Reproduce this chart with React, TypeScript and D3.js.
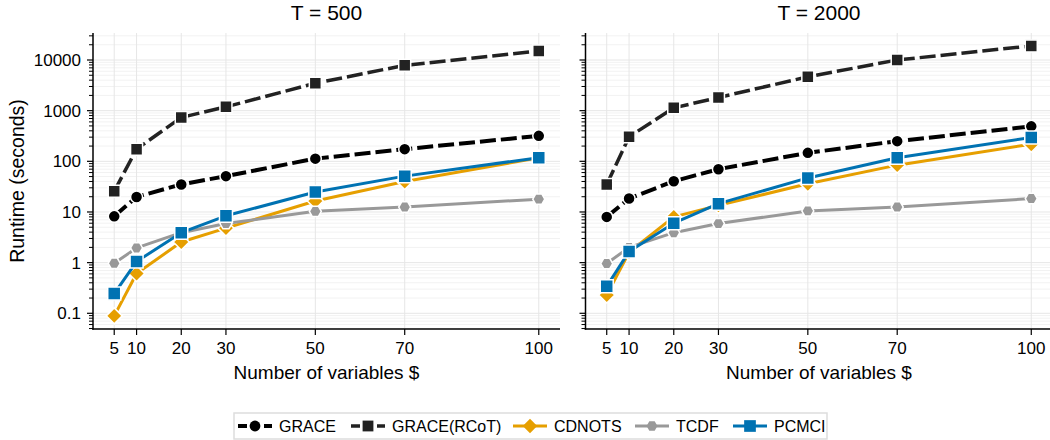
import React, { useEffect, useRef } from 'react';
import * as d3 from 'd3';

// number of variables (x)
const nVars = [5, 10, 20, 30, 50, 70, 100];

// T = 500 runtimes (seconds)
const graceT500 = [8.2, 19.8, 35, 51, 113, 174, 318];
const rcotT500 = [25.7, 174, 735, 1190, 3470, 7850, 15100];
const cdnotsT500 = [0.089, 0.61, 2.55, 4.8, 16.5, 40, 117];
const tcdfT500 = [0.97, 1.95, 3.9, 5.9, 10.3, 12.5, 17.9];
const pcmciT500 = [0.245, 1.05, 3.9, 8.4, 24.8, 51, 118];

// T = 2000 runtimes (seconds)
const graceT2000 = [8, 18.4, 40.5, 70, 147, 250, 490];
const rcotT2000 = [35, 305, 1135, 1820, 4660, 10000, 19000];
const cdnotsT2000 = [0.23, 1.6, 8, 13.5, 36, 84, 218];
const tcdfT2000 = [0.96, 2.0, 3.9, 5.9, 10.5, 12.5, 18.4];
const pcmciT2000 = [0.34, 1.66, 6.0, 14.6, 47, 118, 295];

const panelTitles = ['T = 500', 'T = 2000'];
const methods = ['GRACE', 'GRACE(RCoT)', 'CDNOTS', 'TCDF', 'PCMCI'];
const yTicks = [0.1, 1, 10, 100, 1000, 10000];

const FONT = '"Liberation Sans", Arial, Helvetica, sans-serif';

type Style = { color: string; width: number; dash: string | null; marker: string; size: number };
const styles: Style[] = [
  { color: '#000000', width: 4, dash: '16,5', marker: 'circle', size: 12 },
  { color: '#222222', width: 3.5, dash: '16,5', marker: 'square', size: 12 },
  { color: '#E69F00', width: 3, dash: null, marker: 'diamond', size: 16 },
  { color: '#999999', width: 3, dash: null, marker: 'hexagon', size: 12 },
  { color: '#0072B2', width: 3, dash: null, marker: 'square', size: 13 },
];

const markerPath = (kind: string, s: number) => {
  const h = s / 2;
  if (kind === 'square') return `M${-h},${-h}H${h}V${h}H${-h}Z`;
  if (kind === 'diamond') return `M0,${-h}L${h},0L0,${h}L${-h},0Z`;
  if (kind === 'hexagon') {
    const pts = d3.range(6).map((i) => {
      const a = (Math.PI / 3) * i;
      return [h * Math.cos(a), h * Math.sin(a)];
    });
    return 'M' + pts.map((p) => p.join(',')).join('L') + 'Z';
  }
  return d3.symbol(d3.symbolCircle, Math.PI * h * h)() as string;
};

const App = () => {
  const ref = useRef<SVGSVGElement>(null);

  useEffect(() => {
    const svg = d3.select(ref.current);
    svg.selectAll('*').remove();

    const top = 33;
    const bottom = 329;
    const panels = [
      { x0: 93, x1: 560, data: [graceT500, rcotT500, cdnotsT500, tcdfT500, pcmciT500] },
      { x0: 585.5, x1: 1052.5, data: [graceT2000, rcotT2000, cdnotsT2000, tcdfT2000, pcmciT2000] },
    ];

    const yScale = d3.scaleLog()
      .domain([Math.pow(10, -1.31), Math.pow(10, 4.533)])
      .range([bottom, top]);

    const minor: number[] = [];
    for (let e = -2; e <= 4; e++) {
      for (let m = 2; m <= 9; m++) {
        const v = m * Math.pow(10, e);
        if (v >= yScale.domain()[0] && v <= yScale.domain()[1]) minor.push(v);
      }
    }

    panels.forEach((p, pi) => {
      const xScale = d3.scaleLinear().domain([0.25, 104.75]).range([p.x0, p.x1]);
      const g = svg.append('g');

      // minor grid
      g.selectAll('.ygrid-minor')
        .data(minor)
        .enter()
        .append('line')
        .attr('x1', p.x0).attr('x2', p.x1)
        .attr('y1', (d) => yScale(d)).attr('y2', (d) => yScale(d))
        .attr('stroke', '#f2f2f2').attr('stroke-width', 1);

      // major grid
      g.selectAll('.ygrid')
        .data(yTicks)
        .enter()
        .append('line')
        .attr('x1', p.x0).attr('x2', p.x1)
        .attr('y1', (d) => yScale(d)).attr('y2', (d) => yScale(d))
        .attr('stroke', '#e6e6e6').attr('stroke-width', 1);

      g.selectAll('.xgrid')
        .data(nVars)
        .enter()
        .append('line')
        .attr('x1', (d) => xScale(d)).attr('x2', (d) => xScale(d))
        .attr('y1', top).attr('y2', bottom)
        .attr('stroke', '#e6e6e6').attr('stroke-width', 1);

      // series
      p.data.forEach((vals, si) => {
        const st = styles[si];
        const pts = vals.map((v, i) => [nVars[i], v] as [number, number]);
        const line = d3.line<[number, number]>()
          .x((d) => xScale(d[0]))
          .y((d) => yScale(d[1]));
        g.append('path')
          .attr('d', line(pts))
          .attr('fill', 'none')
          .attr('stroke', st.color)
          .attr('stroke-width', st.width)
          .attr('stroke-dasharray', st.dash)
          .attr('stroke-linejoin', 'round');
        g.selectAll(null)
          .data(pts)
          .enter()
          .append('path')
          .attr('d', markerPath(st.marker, st.size))
          .attr('transform', (d) => `translate(${xScale(d[0])},${yScale(d[1])})`)
          .attr('fill', st.color)
          .attr('stroke', 'white')
          .attr('stroke-width', 1.5);
      });

      // spines
      g.append('line').attr('x1', p.x0).attr('x2', p.x0).attr('y1', top).attr('y2', bottom + 0.75)
        .attr('stroke', 'black').attr('stroke-width', 1.5);
      g.append('line').attr('x1', p.x0 - 0.75).attr('x2', p.x1).attr('y1', bottom).attr('y2', bottom)
        .attr('stroke', 'black').attr('stroke-width', 1.5);

      // y ticks
      g.selectAll('.ytick')
        .data(yTicks)
        .enter()
        .append('line')
        .attr('x1', p.x0 - 6).attr('x2', p.x0)
        .attr('y1', (d) => yScale(d)).attr('y2', (d) => yScale(d))
        .attr('stroke', 'black').attr('stroke-width', 1.2);
      g.selectAll('.ymtick')
        .data(minor)
        .enter()
        .append('line')
        .attr('x1', p.x0 - 4).attr('x2', p.x0)
        .attr('y1', (d) => yScale(d)).attr('y2', (d) => yScale(d))
        .attr('stroke', 'black').attr('stroke-width', 1);
      if (pi === 0) {
        g.selectAll('.ylab')
          .data(yTicks)
          .enter()
          .append('text')
          .attr('x', p.x0 - 12)
          .attr('y', (d) => yScale(d) + 6)
          .attr('text-anchor', 'end')
          .style('font-family', FONT)
          .style('font-size', '17px')
          .text((d) => String(d));
        svg.append('text')
          .attr('transform', `translate(${24},${(top + bottom) / 2}) rotate(-90)`)
          .attr('text-anchor', 'middle')
          .style('font-family', FONT)
          .style('font-size', '19.5px')
          .text('Runtime (seconds)');
      }

      // x ticks
      g.selectAll('.xtick')
        .data(nVars)
        .enter()
        .append('line')
        .attr('x1', (d) => xScale(d)).attr('x2', (d) => xScale(d))
        .attr('y1', bottom).attr('y2', bottom + 6)
        .attr('stroke', 'black').attr('stroke-width', 1.2);
      g.selectAll('.xlab')
        .data(nVars)
        .enter()
        .append('text')
        .attr('x', (d) => xScale(d))
        .attr('y', bottom + 25)
        .attr('text-anchor', 'middle')
        .style('font-family', FONT)
        .style('font-size', '17px')
        .text((d) => String(d));

      const cx = (p.x0 + p.x1) / 2;
      g.append('text')
        .attr('x', cx).attr('y', 379)
        .attr('text-anchor', 'middle')
        .style('font-family', FONT)
        .style('font-size', '19px')
        .text('Number of variables $');
      g.append('text')
        .attr('x', cx).attr('y', 19.5)
        .attr('text-anchor', 'middle')
        .style('font-family', FONT)
        .style('font-size', '21px')
        .text(panelTitles[pi]);
    });

    // legend
    const legend = svg.append('g');
    legend.append('rect')
      .attr('x', 234).attr('y', 413).attr('width', 593).attr('height', 26)
      .attr('fill', 'white').attr('stroke', '#dddddd').attr('stroke-width', 1.5);
    const itemX = [238, 351, 513, 635, 733];
    methods.forEach((m, i) => {
      const st = styles[i];
      const x = itemX[i];
      const y = 426;
      legend.append('line')
        .attr('x1', x).attr('x2', x + 34).attr('y1', y).attr('y2', y)
        .attr('stroke', st.color)
        .attr('stroke-width', st.width)
        .attr('stroke-dasharray', st.dash ? '9,4' : null);
      legend.append('path')
        .attr('d', markerPath(st.marker, st.size * 0.9))
        .attr('transform', `translate(${x + 17},${y})`)
        .attr('fill', st.color);
      legend.append('text')
        .attr('x', x + 41).attr('y', y + 5.5)
        .style('font-family', FONT)
        .style('font-size', '16px')
        .text(m);
    });
  }, []);

  return (
    <div style={{ position: 'absolute', left: 0, top: 0, width: 1050, height: 440, overflow: 'hidden', background: 'white' }}>
      <svg ref={ref} width={1050} height={440}></svg>
    </div>
  );
};

export default App;
